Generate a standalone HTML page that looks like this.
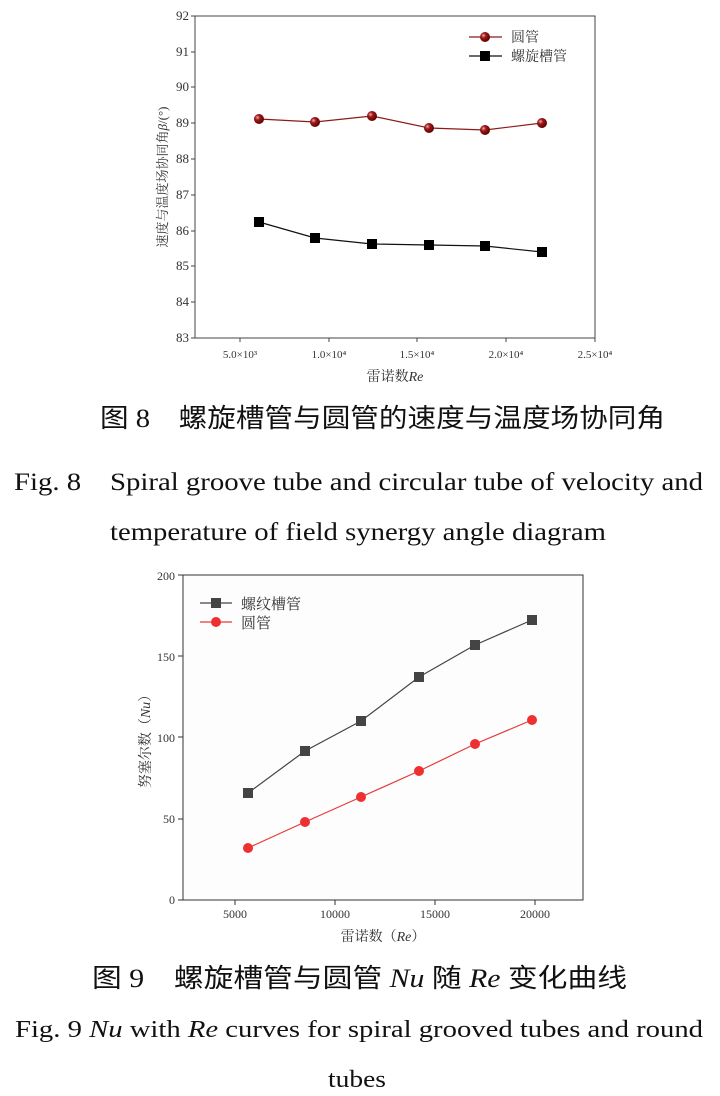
<!DOCTYPE html>
<html><head><meta charset="utf-8"><style>
html,body{margin:0;padding:0;background:#fff;width:720px;height:1096px;overflow:hidden}
svg{display:block}
.s{font-family:"Liberation Serif","Noto Serif CJK SC",serif}
</style></head><body>
<svg width="720" height="1096" viewBox="0 0 720 1096" xmlns="http://www.w3.org/2000/svg">
<defs>
<radialGradient id="rb" cx="0.35" cy="0.35" r="0.7"><stop offset="0" stop-color="#f0b0b0"/><stop offset="0.35" stop-color="#a01818"/><stop offset="1" stop-color="#5a0000"/></radialGradient>
</defs>
<!-- Chart 1 -->
<g class="s" font-size="12" fill="#333">
<rect x="195" y="16" width="400" height="322" fill="none" stroke="#444" stroke-width="1"/>
<g stroke="#444">
<line x1="195" y1="16" x2="191" y2="16"/><line x1="195" y1="52" x2="191" y2="52"/><line x1="195" y1="87" x2="191" y2="87"/><line x1="195" y1="123" x2="191" y2="123"/><line x1="195" y1="159" x2="191" y2="159"/><line x1="195" y1="195" x2="191" y2="195"/><line x1="195" y1="231" x2="191" y2="231"/><line x1="195" y1="266" x2="191" y2="266"/><line x1="195" y1="302" x2="191" y2="302"/><line x1="195" y1="338" x2="191" y2="338"/>
<line x1="240" y1="338" x2="240" y2="342"/><line x1="329" y1="338" x2="329" y2="342"/><line x1="417" y1="338" x2="417" y2="342"/><line x1="506" y1="338" x2="506" y2="342"/><line x1="595" y1="338" x2="595" y2="342"/>
</g>
<g text-anchor="end" font-size="13">
<text x="189" y="20">92</text><text x="189" y="56">91</text><text x="189" y="91">90</text><text x="189" y="127">89</text><text x="189" y="163">88</text><text x="189" y="199">87</text><text x="189" y="235">86</text><text x="189" y="270">85</text><text x="189" y="306">84</text><text x="189" y="342">83</text>
</g>
<g text-anchor="middle" font-size="11">
<text x="240" y="358">5.0×10³</text><text x="329" y="358">1.0×10⁴</text><text x="417" y="358">1.5×10⁴</text><text x="506" y="358">2.0×10⁴</text><text x="595" y="358">2.5×10⁴</text>
</g>
<text x="395" y="381" text-anchor="middle" font-size="14">雷诺数<tspan font-style="italic">Re</tspan></text>
<text transform="translate(167,177) rotate(-90)" text-anchor="middle" font-size="13">速度与温度场协同角<tspan font-style="italic">β</tspan>/(°)</text>
<polyline fill="none" stroke="#8b1a1a" stroke-width="1.2" points="259,119 315,122 372,116 429,128 485,130 542,123"/>
<g fill="url(#rb)"><circle cx="259" cy="119" r="5"/><circle cx="315" cy="122" r="5"/><circle cx="372" cy="116" r="5"/><circle cx="429" cy="128" r="5"/><circle cx="485" cy="130" r="5"/><circle cx="542" cy="123" r="5"/></g>
<polyline fill="none" stroke="#111" stroke-width="1.2" points="259,222 315,238 372,244 429,245 485,246 542,252"/>
<g fill="#000"><rect x="254" y="217" width="10" height="10"/><rect x="310" y="233" width="10" height="10"/><rect x="367" y="239" width="10" height="10"/><rect x="424" y="240" width="10" height="10"/><rect x="480" y="241" width="10" height="10"/><rect x="537" y="247" width="10" height="10"/></g>
<line x1="469" y1="37" x2="502" y2="37" stroke="#8b1a1a" stroke-width="1.2"/><circle cx="485" cy="37" r="5" fill="url(#rb)"/>
<line x1="469" y1="56" x2="502" y2="56" stroke="#111" stroke-width="1.2"/><rect x="480" y="51" width="10" height="10" fill="#000"/>
<text x="511" y="42" font-size="14">圆管</text><text x="511" y="61" font-size="14">螺旋槽管</text>
</g>
<!-- Captions 8 -->
<g class="s" fill="#111">
<text x="100" y="427" font-size="26" textLength="565" lengthAdjust="spacingAndGlyphs" font-family="Liberation Serif, Noto Sans CJK SC, sans-serif">图 8　螺旋槽管与圆管的速度与温度场协同角</text>
<text x="14" y="490" font-size="25" textLength="689" lengthAdjust="spacingAndGlyphs">Fig. 8　Spiral groove tube and circular tube of velocity and</text>
<text x="110" y="540" font-size="25" textLength="496" lengthAdjust="spacingAndGlyphs">temperature of field synergy angle diagram</text>
</g>
<!-- Chart 2 -->
<g class="s" font-size="12" fill="#333">
<rect x="183" y="575" width="400" height="325" fill="#fdfdfd" stroke="#333" stroke-width="1"/>
<g stroke="#333">
<line x1="183" y1="575" x2="178" y2="575"/><line x1="183" y1="656" x2="178" y2="656"/><line x1="183" y1="737" x2="178" y2="737"/><line x1="183" y1="819" x2="178" y2="819"/><line x1="183" y1="900" x2="178" y2="900"/>
<line x1="235" y1="900" x2="235" y2="905"/><line x1="335" y1="900" x2="335" y2="905"/><line x1="435" y1="900" x2="435" y2="905"/><line x1="535" y1="900" x2="535" y2="905"/>
</g>
<g text-anchor="end"><text x="175" y="580">200</text><text x="175" y="661">150</text><text x="175" y="742">100</text><text x="175" y="823">50</text><text x="175" y="904">0</text></g>
<g text-anchor="middle"><text x="235" y="918">5000</text><text x="335" y="918">10000</text><text x="435" y="918">15000</text><text x="535" y="918">20000</text></g>
<text x="383" y="941" text-anchor="middle" font-size="14">雷诺数（<tspan font-style="italic">Re</tspan>）</text>
<text transform="translate(150,738) rotate(-90)" text-anchor="middle" font-size="14">努塞尔数（<tspan font-style="italic">Nu</tspan>）</text>
<polyline fill="none" stroke="#444" stroke-width="1.2" points="248,793 305,751 361,721 419,677 475,645 532,620"/>
<g fill="#444"><rect x="243" y="788" width="10" height="10"/><rect x="300" y="746" width="10" height="10"/><rect x="356" y="716" width="10" height="10"/><rect x="414" y="672" width="10" height="10"/><rect x="470" y="640" width="10" height="10"/><rect x="527" y="615" width="10" height="10"/></g>
<polyline fill="none" stroke="#e83a3a" stroke-width="1.2" points="248,848 305,822 361,797 419,771 475,744 532,720"/>
<g fill="#ee3030"><circle cx="248" cy="848" r="5"/><circle cx="305" cy="822" r="5"/><circle cx="361" cy="797" r="5"/><circle cx="419" cy="771" r="5"/><circle cx="475" cy="744" r="5"/><circle cx="532" cy="720" r="5"/></g>
<line x1="200" y1="603" x2="232" y2="603" stroke="#444" stroke-width="1.2"/><rect x="211" y="598" width="10" height="10" fill="#444"/>
<line x1="200" y1="622" x2="232" y2="622" stroke="#e83a3a" stroke-width="1.2"/><circle cx="216" cy="622" r="5" fill="#ee3030"/>
<text x="241" y="609" font-size="15">螺纹槽管</text><text x="241" y="628" font-size="15">圆管</text>
</g>
<!-- Captions 9 -->
<g class="s" fill="#111">
<text x="92" y="987" font-size="26" textLength="535" lengthAdjust="spacingAndGlyphs" font-family="Liberation Serif, Noto Sans CJK SC, sans-serif">图 9　螺旋槽管与圆管 <tspan font-style="italic">Nu</tspan> 随 <tspan font-style="italic">Re</tspan> 变化曲线</text>
<text x="15" y="1037" font-size="24" textLength="688" lengthAdjust="spacingAndGlyphs">Fig. 9 <tspan font-style="italic">Nu</tspan> with <tspan font-style="italic">Re</tspan> curves for spiral grooved tubes and round</text>
<text x="328" y="1087" font-size="24" textLength="58" lengthAdjust="spacingAndGlyphs">tubes</text>
</g>
</svg>
</body></html>
